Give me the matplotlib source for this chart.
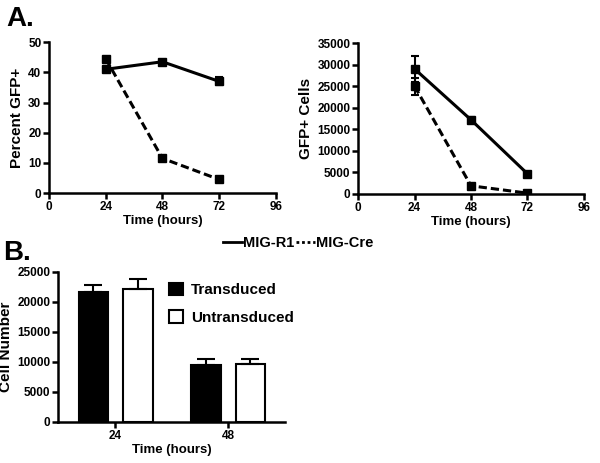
import matplotlib
matplotlib.use("Agg")
import matplotlib.pyplot as plt
import numpy as np
from matplotlib.lines import Line2D

plt.rcParams['font.family'] = ['Liberation Sans', 'DejaVu Sans']
plt.rcParams['font.weight'] = 'bold'

# Data
hours = [24, 48, 72]
pct_r1 = [41, 43.5, 37]
pct_r1_err = [0.5, 0.5, 1.3]
pct_cre = [44.5, 11.5, 4.5]
pct_cre_err = [0.3, 0.5, 0.4]

cells_r1 = [29000, 17200, 4700]
cells_r1_err = [3000, 700, 300]
cells_cre = [25000, 1900, 200]
cells_cre_err = [2000, 300, 100]

bar_groups = ['24', '48']
transduced = [21600, 9500]
transduced_err = [1300, 1050]
untransduced = [22200, 9700]
untransduced_err = [1600, 850]

fig = plt.figure(figsize=(6, 4.63), dpi=100)

def style(ax):
    for s in ['top', 'right']:
        ax.spines[s].set_visible(False)
    for s in ['left', 'bottom']:
        ax.spines[s].set_linewidth(1.8)
    ax.tick_params(width=1.8, length=4, labelsize=8.5, pad=1.5)
    for lab in ax.get_xticklabels() + ax.get_yticklabels():
        lab.set_fontweight('bold')

line_kw = dict(color='black', lw=2.2, marker='s', ms=5.8, capsize=3, elinewidth=1.5, capthick=1.5)
dash = (0, (2.7, 1.3))

# Panel A left
ax1 = fig.add_axes([0.0817, 0.583, 0.378, 0.326])
ax1.errorbar(hours, pct_r1, yerr=pct_r1_err, ls='-', **line_kw)
ax1.errorbar(hours, pct_cre, yerr=pct_cre_err, ls=dash, **line_kw)
ax1.set_xlim(0, 96)
ax1.set_ylim(0, 50)
ax1.set_xticks([0, 24, 48, 72, 96])
ax1.set_yticks([0, 10, 20, 30, 40, 50])
ax1.set_xlabel('Time (hours)', fontsize=9.5, fontweight='bold', labelpad=2)
ax1.set_ylabel('Percent GFP+', fontsize=11, fontweight='bold', labelpad=3)
style(ax1)

# Panel A right
ax2 = fig.add_axes([0.597, 0.581, 0.376, 0.326])
ax2.errorbar(hours, cells_r1, yerr=cells_r1_err, ls='-', **line_kw)
ax2.errorbar(hours, cells_cre, yerr=cells_cre_err, ls=dash, **line_kw)
ax2.set_xlim(0, 96)
ax2.set_ylim(0, 35000)
ax2.set_xticks([0, 24, 48, 72, 96])
ax2.set_yticks(np.arange(0, 35001, 5000))
ax2.set_xlabel('Time (hours)', fontsize=9.5, fontweight='bold', labelpad=2)
ax2.set_ylabel('GFP+ Cells', fontsize=11, fontweight='bold', labelpad=3)
style(ax2)

# Legend for A
h1 = Line2D([], [], color='black', lw=2)
h2 = Line2D([], [], color='black', lw=2, ls=(0, (1, 1)))
fig.legend([h1, h2], ['MIG-R1', 'MIG-Cre'], loc='center', bbox_to_anchor=(0.497, 0.475),
           ncol=2, frameon=False, handlelength=1.3, handletextpad=0.1, columnspacing=0.1,
           prop={'weight': 'bold', 'size': 10.5})

# Panel B
ax3 = fig.add_axes([0.0967, 0.0886, 0.378, 0.324])
x = np.arange(len(bar_groups))
w = 0.265
ekw = dict(elinewidth=1.5, capthick=1.5)
ax3.bar(x - 0.19, transduced, w, yerr=[np.zeros(len(x)), transduced_err], color='black',
        edgecolor='black', lw=1.5, capsize=6.5, error_kw=ekw, label='Transduced')
ax3.bar(x + 0.2, untransduced, w, yerr=[np.zeros(len(x)), untransduced_err], color='white',
        edgecolor='black', lw=1.5, capsize=6.5, error_kw=ekw, label='Untransduced')
ax3.set_xlim(-0.504, 1.504)
ax3.set_ylim(0, 25000)
ax3.set_xticks(x)
ax3.set_xticklabels(bar_groups)
ax3.set_yticks(np.arange(0, 25001, 5000))
ax3.set_xlabel('Time (hours)', fontsize=9.5, fontweight='bold', labelpad=2)
ax3.set_ylabel('Cell Number', fontsize=11, fontweight='bold', labelpad=3)
style(ax3)
leg = ax3.legend(loc='upper left', bbox_to_anchor=(0.43, 1.02), frameon=False,
                 prop={'weight': 'bold', 'size': 11}, handlelength=0.9, handleheight=0.9,
                 handletextpad=0.5, labelspacing=0.85)

fig.text(0.01, 0.958, 'A.', fontsize=20, fontweight='bold', va='center')
fig.text(0.006, 0.454, 'B.', fontsize=20, fontweight='bold', va='center')

fig.savefig('out.png', dpi=100)
